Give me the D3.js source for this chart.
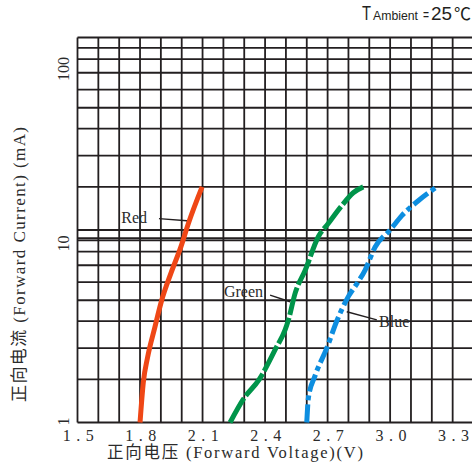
<!DOCTYPE html>
<html>
<head>
<meta charset="utf-8">
<script src="https://cdn.jsdelivr.net/npm/d3@7"></script>
<style>
  body { margin: 0; background: #fff; }
  text { font-family: "Liberation Serif", "Noto Sans CJK SC", serif; fill: #2b2b2b; }
</style>
</head>
<body>
<script>
// Values: forward voltage (V) vs forward current (mA)
var voltageTicks = [1.5, 1.8, 2.1, 2.4, 2.7, 3.0, 3.3];
var currentTicks = [1, 10, 100];

var redVoltage   = [1.800, 1.816, 1.835, 1.872, 1.904, 1.948, 1.996, 2.032, 2.098];
var redCurrent   = [1, 1.92, 2.62, 3.77, 5.0, 6.5, 8.4, 11.1, 20];

var greenVoltage = [2.232, 2.295, 2.372, 2.452, 2.496, 2.512, 2.544, 2.592, 2.656, 2.703, 2.768, 2.823, 2.871];
var greenCurrent = [1, 1.45, 2.0, 3.0, 3.64, 4.05, 5.36, 6.67, 9.36, 11.1, 14.8, 18.2, 20];

var blueVoltage  = [2.600, 2.608, 2.640, 2.696, 2.744, 2.800, 2.840, 2.880, 2.928, 3.000, 3.056, 3.135, 3.224];
var blueCurrent  = [1, 1.49, 2.1, 3.0, 4.0, 5.2, 5.9, 6.7, 8.4, 10, 12.6, 16.0, 20];

// SVG area
var svgWidth = 472;
var svgHeight = 468;

var svg = d3.select("body")
            .append("svg")
            .attr("width", svgWidth)
            .attr("height", svgHeight);

// x: one grid column per 0.1 V, the sheet is cut off on the right
var x = d3.scaleLinear()
          .domain([1.5, 3.4])
          .range([77.5, 473.5]);

// y: the printed log paper spaces 1..10 a little differently from a true log,
// so the scale is built piecewise from where the rules sit inside a decade
var decadeFrac = [0, .224, .386, .527, .635, .729, .817, .888, .946];
var paper = d3.scaleLinear().domain([0, 2]).range([422.5, 37.5]);

var gridCurrent = [];
[1, 10].forEach(function(dec) {
  d3.range(1, 10).forEach(function(n) { gridCurrent.push(n * dec); });
});
gridCurrent.push(100);

var y = d3.scaleLog()
          .domain(gridCurrent)
          .range(gridCurrent.map(function(v) {
            var dec = Math.floor(Math.log10(v) + 1e-9);
            var n = Math.round(v / Math.pow(10, dec));
            return paper(dec + (decadeFrac[n - 1] || 0));
          }));

// grid
var grid = svg.append("g")
              .attr("stroke", "#231f20")
              .attr("stroke-width", 1.8);

// the sheet has a doubled rule just under 10 mA
var hRules = gridCurrent.concat([9.2]);

grid.selectAll("line.h")
    .data(hRules)
    .enter()
    .append("line")
    .attr("x1", x(1.5))
    .attr("x2", x(3.4))
    .attr("y1", function(d) { return y(d); })
    .attr("y2", function(d) { return y(d); });

grid.selectAll("line.v")
    .data(d3.range(15, 35).map(function(d) { return d / 10; }))
    .enter()
    .append("line")
    .attr("x1", function(d) { return x(d); })
    .attr("x2", function(d) { return x(d); })
    .attr("y1", y(1))
    .attr("y2", y(100));

// x axis labels
var xAxis = svg.append("g")
               .attr("transform", "translate(0," + y(1) + ")")
               .call(d3.axisBottom(x)
                       .tickValues(voltageTicks)
                       .tickSize(0)
                       .tickPadding(7)
                       .tickFormat(d3.format(".1f")));
xAxis.select(".domain").remove();
xAxis.selectAll("text")
     .attr("dx", 3)
     .style("font-family", "Liberation Serif, serif")
     .style("font-size", "16px")
     .style("letter-spacing", "5.5px")
     .style("fill", "#2b2b2b");

// y axis labels (the sheet prints them a bit below their rules)
var labelShift = {1: -1.5, 10: 13, 100: 31};
var yAxis = svg.append("g")
               .attr("transform", "translate(" + x(1.5) + ",0)")
               .call(d3.axisLeft(y)
                       .tickValues(currentTicks)
                       .tickSize(0)
                       .tickFormat(d3.format("d")));
yAxis.select(".domain").remove();
yAxis.selectAll("text")
     .attr("x", null)
     .attr("dy", null)
     .attr("text-anchor", "middle")
     .attr("transform", function(d) { return "translate(-9," + labelShift[d] + ") rotate(-90)"; })
     .style("font-family", "Liberation Serif, serif")
     .style("font-size", "16px")
     .style("fill", "#2b2b2b");

// curves
var series = [
  {v: redVoltage,   i: redCurrent,   color: "#ef4716", dash: null},
  {v: greenVoltage, i: greenCurrent, color: "#00944a", dash: "28,3"},
  {v: blueVoltage,  i: blueCurrent,  color: "#0d8ee0", dash: "18,4,5,4"}
];

var line = d3.line()
             .x(function(d) { return x(d[0]); })
             .y(function(d) { return y(d[1]); })
             .curve(d3.curveMonotoneX);

svg.selectAll("path.curve")
   .data(series)
   .enter()
   .append("path")
   .attr("fill", "none")
   .attr("stroke", function(d) { return d.color; })
   .attr("stroke-width", 5)
   .attr("stroke-dasharray", function(d) { return d.dash; })
   .attr("d", function(d) { return line(d3.zip(d.v, d.i)); });

// callouts: leader from the curve out to the name
var callouts = [
  {name: "Red",   curve: [2.025, 11.6], tail: [1.891, 12.0], anchor: "end",   dx: -12, dy: 4.2},
  {name: "Green", curve: [2.520, 4.92], tail: [2.424, 5.27], anchor: "end",   dx: -7,  dy: 1.7},
  {name: "Blue",  curve: [2.792, 4.42], tail: [2.936, 4.05], anchor: "start", dx: 2.3, dy: 7.3}
];

callouts.forEach(function(c) {
  svg.append("line")
     .attr("x1", x(c.curve[0])).attr("y1", y(c.curve[1]))
     .attr("x2", x(c.tail[0])).attr("y2", y(c.tail[1]))
     .attr("stroke", "#231f20")
     .attr("stroke-width", 1.4);
  svg.append("text")
     .attr("x", x(c.tail[0]) + c.dx)
     .attr("y", y(c.tail[1]) + c.dy)
     .attr("text-anchor", c.anchor)
     .style("font-size", "16px")
     .text(c.name);
});

// axis titles
svg.append("text")
   .attr("x", 107)
   .attr("y", 457.5)
   .attr("textLength", 256)
   .attr("lengthAdjust", "spacing")
   .style("font-size", "16.5px")
   .text("正向电压 (Forward Voltage)(V)");

svg.append("text")
   .attr("transform", "translate(25,402) rotate(-90)")
   .attr("textLength", 275)
   .attr("lengthAdjust", "spacing")
   .style("font-size", "17px")
   .text("正向电流 (Forward Current) (mA)");

// ambient note, top right, set in a narrow face
var noteParts = [
  {t: "T",       x: 362, w: 9,  size: 20},
  {t: "Ambient", x: 373, w: 45, size: 13},
  {t: "=",       x: 423, w: 6,  size: 15},
  {t: "25",      x: 431, w: 21, size: 18},
  {t: "℃",       x: 454, w: 17, size: 17}
];
svg.selectAll("text.note")
   .data(noteParts)
   .enter()
   .append("text")
   .attr("x", function(d) { return d.x; })
   .attr("y", 19.5)
   .attr("textLength", function(d) { return d.w; })
   .attr("lengthAdjust", "spacingAndGlyphs")
   .style("font-family", "Liberation Sans, Noto Sans CJK SC, sans-serif")
   .style("font-size", function(d) { return d.size + "px"; })
   .style("fill", "#231f20")
   .text(function(d) { return d.t; });
</script>
</body>
</html>
